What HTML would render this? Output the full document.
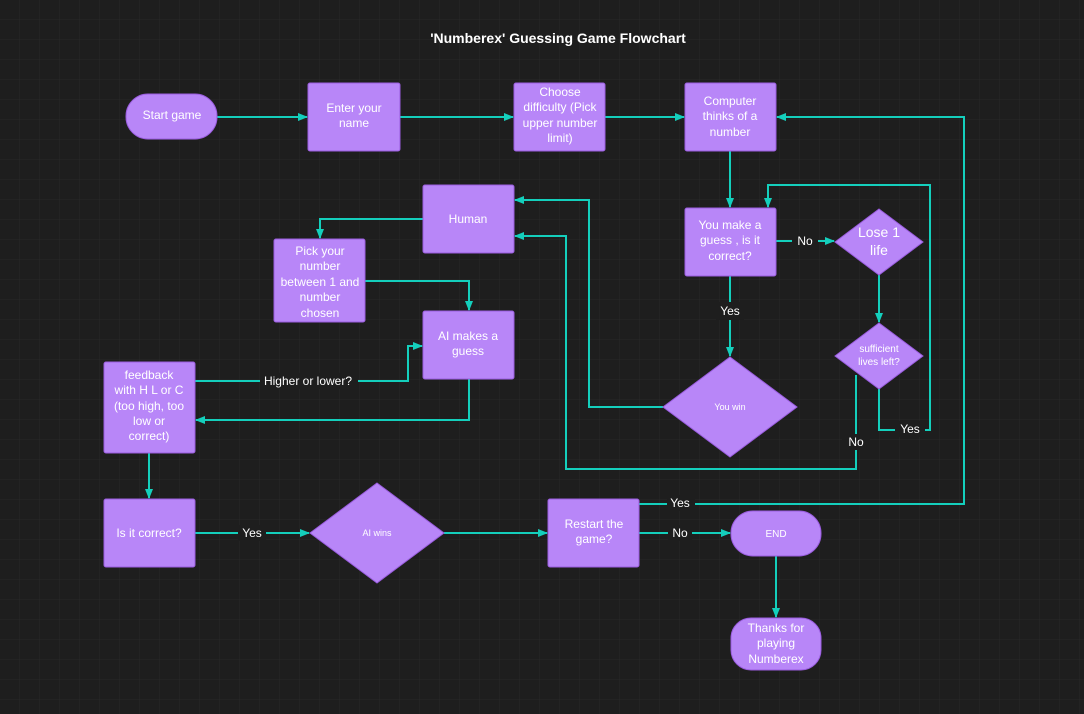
<!DOCTYPE html>
<html><head><meta charset="utf-8"><style>
html,body{margin:0;padding:0;background:#1e1e1e;}
svg{display:block;font-family:"Liberation Sans",sans-serif;}
</style></head><body>
<svg width="1084" height="714" viewBox="0 0 1084 714" xmlns="http://www.w3.org/2000/svg">
<defs>
<pattern id="g" width="20" height="20" patternUnits="userSpaceOnUse"><path d="M20 0V20H0" fill="none" stroke="#282828" stroke-width="1"/></pattern>
<marker id="a" markerWidth="10" markerHeight="10" refX="9" refY="5" orient="auto" markerUnits="userSpaceOnUse"><path d="M0,1 L10,5 L0,9 Z" fill="#14cfbc"/></marker>
</defs>
<rect width="1084" height="714" fill="#1e1e1e"/>
<rect width="1084" height="714" fill="url(#g)"/>
<text x="558" y="43" fill="#fff" font-size="14" font-weight="bold" text-anchor="middle">'Numberex' Guessing Game Flowchart</text>

<g fill="none" stroke="#14cfbc" stroke-width="2" marker-end="url(#a)">
<path d="M217 117H307"/>
<path d="M400 117H513"/>
<path d="M605 117H684"/>
<path d="M730 151V207"/>
<path d="M776 241H834"/>
<path d="M879 275V322"/>
<path d="M879 389V430H930V185H768V207"/>
<path d="M856 375V469H566V236H515"/>
<path d="M730 276V356"/>
<path d="M663 407H589V200H515"/>
<path d="M423 219H320V238"/>
<path d="M365 281H469V310"/>
<path d="M195 381H408V346H422"/>
<path d="M469 379V420H196"/>
<path d="M149 453V498"/>
<path d="M195 533H309"/>
<path d="M444 533H547"/>
<path d="M639 533H730"/>
<path d="M639 504H964V117H777"/>
<path d="M776 556V617"/>
</g>

<g fill="#1e1e1e">
<rect x="792" y="233" width="26" height="16"/>
<rect x="716" y="302" width="28" height="18"/>
<rect x="895" y="421" width="30" height="16"/>
<rect x="842" y="434" width="28" height="16"/>
<rect x="260" y="373" width="98" height="16"/>
<rect x="238" y="525" width="28" height="16"/>
<rect x="667" y="495" width="28" height="16"/>
<rect x="668" y="525" width="24" height="16"/>
</g>
<g fill="#fff" font-size="12" text-anchor="middle">
<text x="805" y="245">No</text>
<text x="730" y="315">Yes</text>
<text x="910" y="433">Yes</text>
<text x="856" y="446">No</text>
<text x="308" y="385">Higher or lower?</text>
<text x="252" y="537">Yes</text>
<text x="680" y="507">Yes</text>
<text x="680" y="537">No</text>
</g>

<g fill="#b886f8" stroke="#9a5cdf" stroke-width="1">
<rect x="126" y="94" width="91" height="45" rx="22"/>
<rect x="308" y="83" width="92" height="68" rx="2"/>
<rect x="514" y="83" width="91" height="68" rx="2"/>
<rect x="685" y="83" width="91" height="68" rx="2"/>
<rect x="423" y="185" width="91" height="68" rx="2"/>
<rect x="274" y="239" width="91" height="83" rx="2"/>
<rect x="423" y="311" width="91" height="68" rx="2"/>
<rect x="104" y="362" width="91" height="91" rx="2"/>
<rect x="685" y="208" width="91" height="68" rx="2"/>
<path d="M879 209L923 242L879 275L835 242Z"/>
<path d="M879 323L923 356L879 389L835 356Z"/>
<path d="M730 357L797 407L730 457L663 407Z"/>
<rect x="104" y="499" width="91" height="68" rx="2"/>
<path d="M377 483L444 533L377 583L310 533Z"/>
<rect x="548" y="499" width="91" height="68" rx="2"/>
<rect x="731" y="511" width="90" height="45" rx="22"/>
<rect x="731" y="618" width="90" height="52" rx="20"/>
</g>

<g fill="#fff" font-size="12" text-anchor="middle">
<text x="172" y="119">Start game</text>
<text x="354" y="112">Enter your</text><text x="354" y="127">name</text>
<text x="560" y="96">Choose</text><text x="560" y="111">difficulty (Pick</text><text x="560" y="127">upper number</text><text x="560" y="142">limit)</text>
<text x="730" y="105">Computer</text><text x="730" y="120">thinks of a</text><text x="730" y="136">number</text>
<text x="468" y="223">Human</text>
<text x="320" y="255">Pick your</text><text x="320" y="270">number</text><text x="320" y="286">between 1 and</text><text x="320" y="301">number</text><text x="320" y="317">chosen</text>
<text x="468" y="340">AI makes a</text><text x="468" y="355">guess</text>
<text x="149" y="379">feedback</text><text x="149" y="394">with H L or C</text><text x="149" y="410">(too high, too</text><text x="149" y="425">low or</text><text x="149" y="440">correct)</text>
<text x="730" y="229">You make a</text><text x="730" y="244">guess , is it</text><text x="730" y="260">correct?</text>
<text x="879" y="237" font-size="14">Lose 1</text><text x="879" y="255" font-size="14">life</text>
<text x="879" y="352" font-size="10">sufficient</text><text x="879" y="365" font-size="10">lives left?</text>
<text x="730" y="410" font-size="9">You win</text>
<text x="149" y="537">Is it correct?</text>
<text x="377" y="536" font-size="9">AI wins</text>
<text x="594" y="528">Restart the</text><text x="594" y="543">game?</text>
<text x="776" y="537" font-size="10">END</text>
<text x="776" y="632">Thanks for</text><text x="776" y="647">playing</text><text x="776" y="663">Numberex</text>
</g>
</svg>
</body></html>
